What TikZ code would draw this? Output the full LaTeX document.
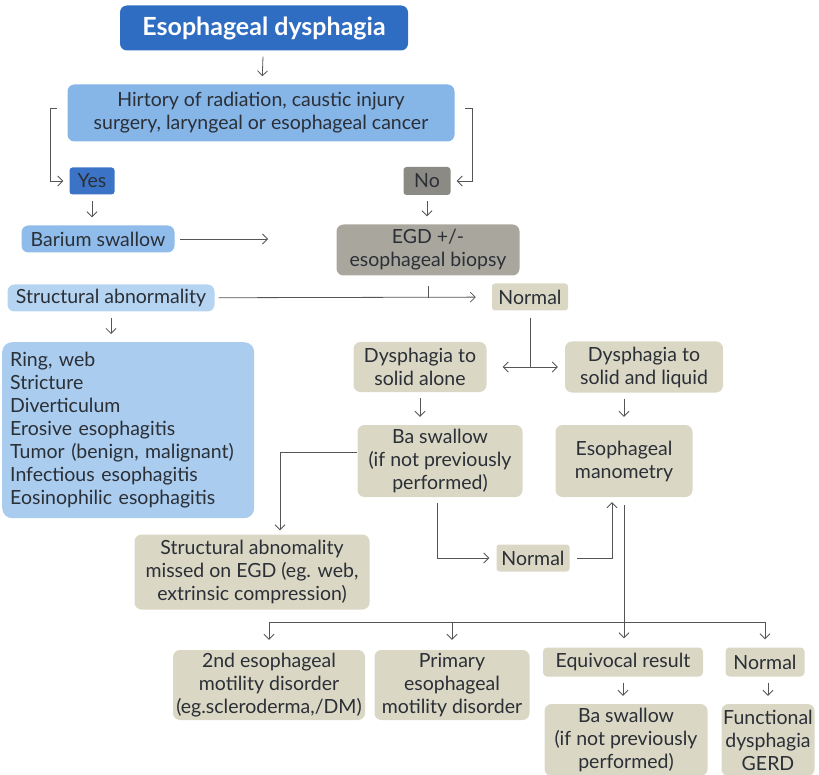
\documentclass[tikz,border=0pt]{standalone}
\usepackage{fontspec}
\setmainfont{Lato}
\usetikzlibrary{arrows.meta,positioning}
\definecolor{cTitle}{HTML}{2F6DC2}
\definecolor{cHist}{HTML}{86B5E8}
\definecolor{cYes}{HTML}{3B74C6}
\definecolor{cBar}{HTML}{8FBCEB}
\definecolor{cStr}{HTML}{B5D4F2}
\definecolor{cList}{HTML}{A9CCEF}
\definecolor{cNo}{HTML}{8B8A84}
\definecolor{cEgd}{HTML}{A9A79D}
\definecolor{cBeige}{HTML}{DAD7C5}
\definecolor{cText}{HTML}{2B2F36}
\definecolor{cLine}{HTML}{555555}

\begin{document}
\begin{tikzpicture}[x=1pt, y=-1pt, >={Straight Barb[length=5pt,width=10pt]},
    box/.style={rounded corners=7pt, align=center, text=cText, inner sep=1pt,
      font=\fontsize{19.5}{23}\selectfont},
    bluebox/.style={box, fill=cBar},
    beigebox/.style={box, fill=cBeige},
    link/.style={draw=cLine, line width=0.8pt},
    flow/.style={link, ->, shorten <=6pt, shorten >=8pt}]
    \useasboundingbox (0,0) rectangle (819,775);

    \node (title) at (264,28) [box, fill=cTitle, text=white, minimum width=288pt, minimum height=45pt,
      font=\bfseries\fontsize{25}{28}\selectfont] {Esophageal dysphagia};
    \node (hist) at (261,113) [box, fill=cHist, minimum width=387pt, minimum height=57pt]
      {Hirtory of radiation, caustic injury\\surgery, laryngeal or esophageal cancer};
    \node (yes) at (92,181) [box, fill=cYes, rounded corners=3pt, minimum width=45pt, minimum height=27pt] {Yes};
    \node (no) at (427,181) [box, fill=cNo, rounded corners=3pt, minimum width=47pt, minimum height=28pt] {No};
    \node (barium) at (98,239) [bluebox, minimum width=153pt, minimum height=27pt] {Barium swallow};
    \node (egd) at (428,250) [box, fill=cEgd, minimum width=183pt, minimum height=51pt] {EGD +/-\\esophageal biopsy};
    \node (struct) at (111,298) [box, fill=cStr, minimum width=207pt, minimum height=27pt] {Structural abnormality};
    \node (normalA) at (530,297) [beigebox, rounded corners=3pt, minimum width=76pt, minimum height=27pt] {Normal};
    \node (list) at (2,342) [box, anchor=north west, fill=cList, align=left, text width=236pt, inner xsep=8pt,
      minimum height=176pt, rounded corners=10pt]
      {Ring, web\\Stricture\\Diverticulum\\Erosive esophagitis\\Tumor (benign, malignant)\\Infectious esophagitis\\Eosinophilic esophagitis};
    \node (solidA) at (420,367) [beigebox, minimum width=133pt, minimum height=50pt] {Dysphagia to\\solid alone};
    \node (solidB) at (644,367) [beigebox, minimum width=158pt, minimum height=51pt] {Dysphagia to\\solid and liquid};
    \node (baA) at (440,461) [beigebox, minimum width=165pt, minimum height=72pt]
      {Ba swallow\\(if not previously\\performed)};
    \node (mano) at (624,461) [beigebox, minimum width=137pt, minimum height=72pt] {Esophageal\\manometry};
    \node (missed) at (252,572) [beigebox, minimum width=235pt, minimum height=75pt]
      {Structural abnomality\\missed on EGD (eg. web,\\extrinsic compression)};
    \node (normalB) at (533,558) [beigebox, rounded corners=3pt, minimum width=73pt, minimum height=27pt] {Normal};
    \node (sec) at (269,685) [beigebox, minimum width=192pt, minimum height=70pt]
      {2nd esophageal\\motility disorder\\(eg.scleroderma,/DM)};
    \node (prim) at (452,685) [beigebox, minimum width=155pt, minimum height=70pt]
      {Primary\\esophageal\\motility disorder};
    \node (equiv) at (623,662) [beigebox, rounded corners=4pt, minimum width=160pt, minimum height=29pt] {Equivocal result};
    \node (normalC) at (765,662) [beigebox, rounded corners=4pt, minimum width=79pt, minimum height=29pt] {Normal};
    \node (baB) at (626,740) [beigebox, minimum width=163pt, minimum height=72pt]
      {Ba swallow\\(if not previously\\performed)};
    \node (func) at (768,740) [beigebox, minimum width=93pt, minimum height=72pt]
      {Functional\\dysphagia\\GERD};

    \coordinate (yesTop) at (57,108);
    \coordinate (noTop) at (465,108);
    \coordinate (barEnd) at (268,239);
    \coordinate (bus) at (624,622);
    \coordinate (split) at (normalA.south |- solidA.east);

    \draw[flow] (title) -- (hist);
    \draw[link,->,shorten >=6pt] (yesTop) -- ++(-7,0) |- (yes);
    \draw[link,->,shorten >=6pt] (noTop) -- ++(7,0) |- (no);
    \draw[flow] (yes.south) -- (yes.south |- barium.north);
    \draw[flow] (no.south) -- (no.south |- egd.north);
    \draw[link,->,shorten <=5pt] (barium) -- (barEnd);
    \draw[link,->,shorten <=4pt,shorten >=16pt] (struct) -- (normalA);
    \draw[link,shorten <=10pt] (egd.south) -- (egd.south |- struct);
    \draw[flow] (struct.south) -- (struct.south |- list.north);
    \draw[link,shorten <=7pt] (normalA.south) -- (split);
    \draw[link,->,shorten >=16pt] (split) -- (solidA);
    \draw[link,->,shorten >=7pt] (split) -- (solidB);
    \draw[flow] (solidA.south) -- (solidA.south |- baA.north);
    \draw[flow] (mano.north |- solidB.south) -- (mano.north);
    \draw[link,->,shorten >=4pt] ([yshift=9pt]baA.west) -| ([xshift=28pt]missed.north);
    \draw[link,->,shorten <=6pt,shorten >=7pt] ([xshift=-3pt]baA.south) |- (normalB);
    \draw[link,->,shorten <=7pt,shorten >=5pt] (normalB) -| ([xshift=-12pt]mano.south);
    \draw[link,->,shorten <=8pt,shorten >=9pt] (mano.south) -- (mano.south |- equiv.north);
    \draw[link] (sec.north |- bus) -- (normalC.north |- bus);
    \draw[link,->,shorten >=10pt] (sec.north |- bus) -- (sec.north);
    \draw[link,->,shorten >=10pt] (prim.north |- bus) -- (prim.north);
    \draw[link,->,shorten >=8pt] (normalC.north |- bus) -- (normalC.north);
    \draw[flow] (equiv.south) -- (equiv.south |- baB.north);
    \draw[flow] (func.north |- normalC.south) -- (func.north);
\end{tikzpicture}
\end{document}
